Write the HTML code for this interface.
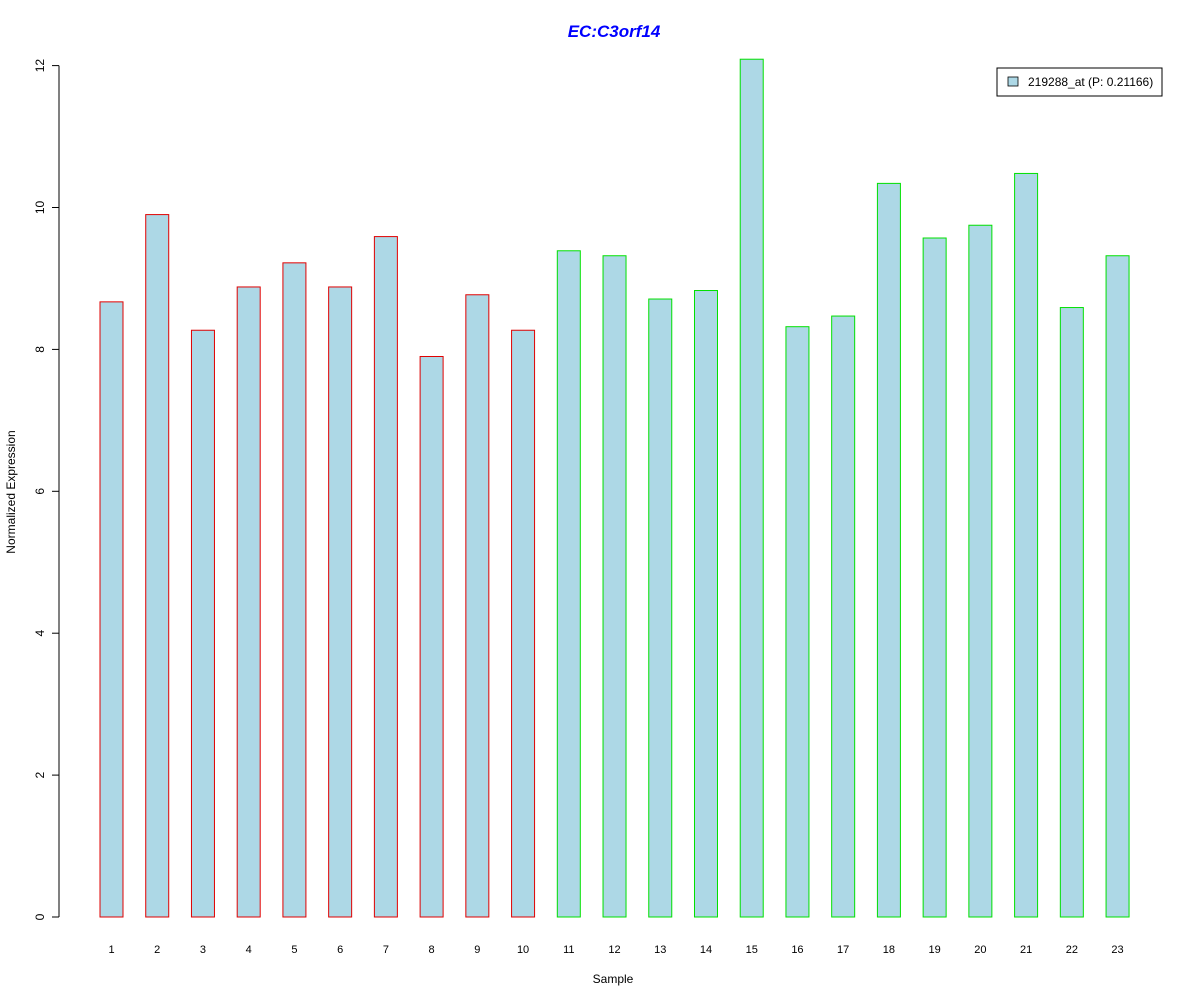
<!DOCTYPE html>
<html><head><meta charset="utf-8"><style>body{margin:0;background:#fff}svg{display:block}text{font-family:"Liberation Sans",Arial,sans-serif}</style></head>
<body>
<svg id="chart" width="1200" height="1000" xmlns="http://www.w3.org/2000/svg">
<text x="614" y="37" text-anchor="middle" font-size="17" font-weight="bold" font-style="italic" fill="#0000ff">EC:C3orf14</text>
<text x="613" y="983" text-anchor="middle" font-size="12">Sample</text>
<text transform="translate(15,492) rotate(-90)" text-anchor="middle" font-size="12">Normalized Expression</text>
<g id="yaxis"></g>
<g id="bars"></g>
<g id="xlabels"></g>
<g>
<rect x="997" y="68" width="165" height="28" fill="#fff" stroke="#000"/>
<rect x="1008" y="77" width="10" height="9" fill="#add8e6" stroke="#000" stroke-width="0.8"/>
<text x="1028" y="86" font-size="12">219288_at (P: 0.21166)</text>
</g>
</svg>
<script>
const categories=["1","2","3","4","5","6","7","8","9","10","11","12","13","14","15","16","17","18","19","20","21","22","23"];
const values=[8.67,9.90,8.27,8.88,9.22,8.88,9.59,7.90,8.77,8.27,9.39,9.32,8.71,8.83,12.09,8.32,8.47,10.34,9.57,9.75,10.48,8.59,9.32];
const groups=["a","a","a","a","a","a","a","a","a","a","b","b","b","b","b","b","b","b","b","b","b","b","b"];
const yTicks=[0,2,4,6,8,10,12];
const NS="http://www.w3.org/2000/svg";
const y=v=>917-v*70.95;
const xc=i=>111.5+i*45.73;
function mk(t,a,p){const e=document.createElementNS(NS,t);for(const k in a)e.setAttribute(k,a[k]);p.appendChild(e);return e;}
const ya=document.getElementById('yaxis');
const axl=mk('line',{x1:59,x2:59,y1:y(0),y2:y(12),stroke:'#000'},ya);


yTicks.forEach(t=>{
 const l=mk('line',{x1:52,x2:59,y1:y(t),y2:y(t),stroke:'#000'},ya);
 
 
 const tx=mk('text',{transform:`translate(44,${y(t)}) rotate(-90)`,'text-anchor':'middle','font-size':12},ya);
 tx.textContent=t;
 
 
});
const bg=document.getElementById('bars'),xl=document.getElementById('xlabels');
values.forEach((v,i)=>{
 const r=mk('rect',{x:xc(i)-11.5,y:y(v),width:23,height:y(0)-y(v),fill:'#add8e6',stroke:groups[i]==='a'?'#e00000':'#00e000','stroke-width':1},bg);
 
 
 const t=mk('text',{x:xc(i),y:953,'text-anchor':'middle','font-size':11},xl);
 t.textContent=categories[i];
 
 
});
</script>
</body></html>
